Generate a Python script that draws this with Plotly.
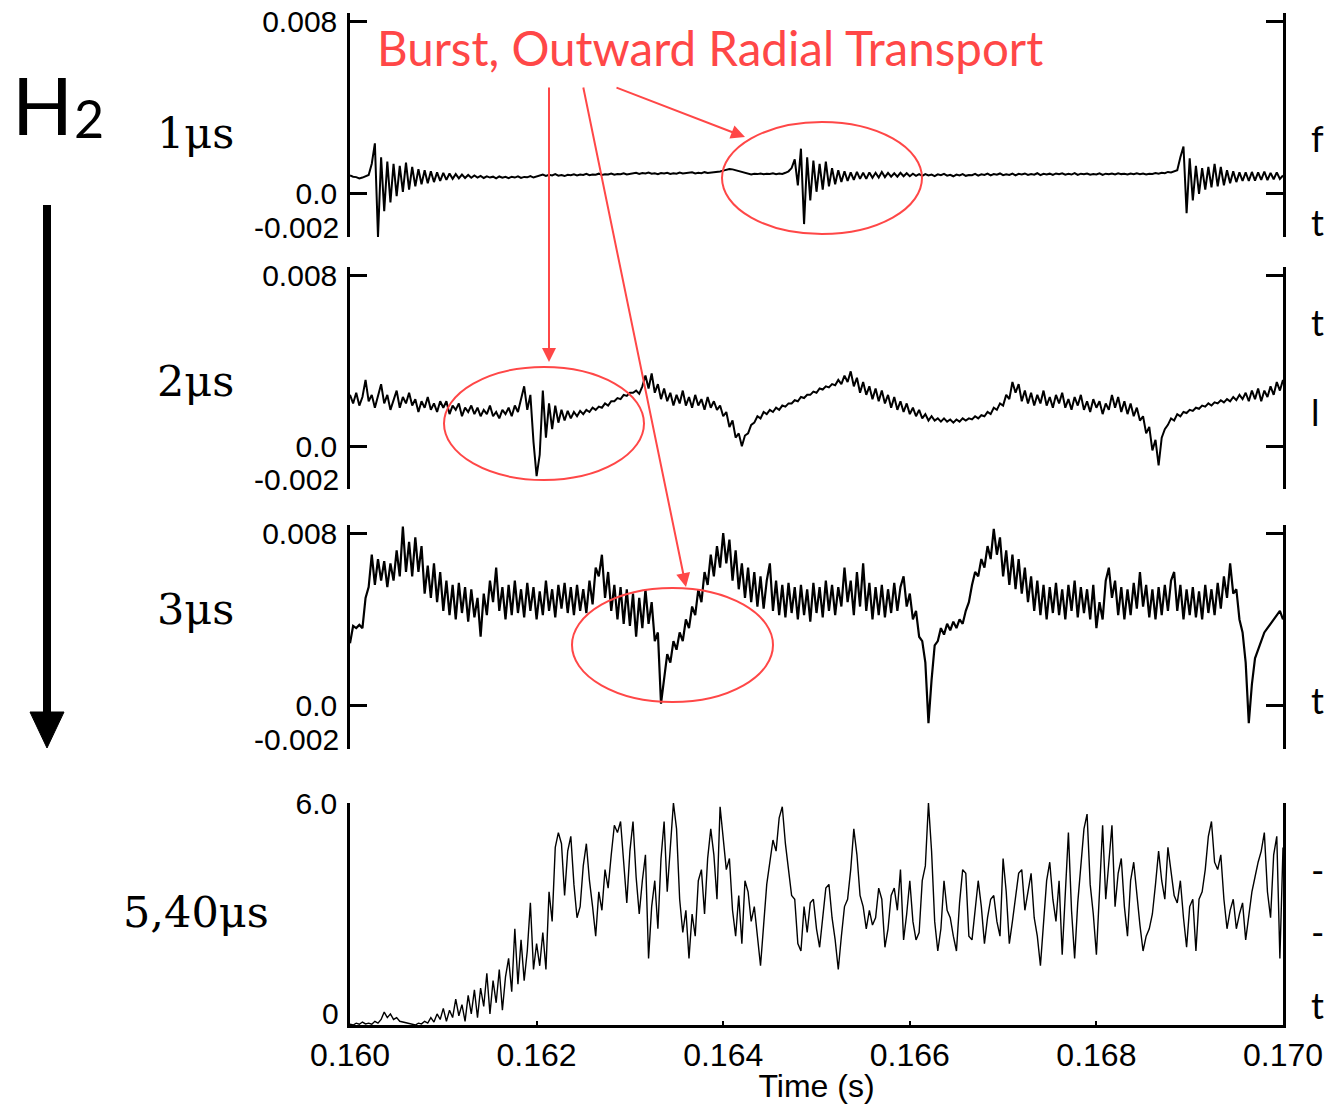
import numpy as np
import plotly.graph_objects as go

# ---------------- data (signals in units of 1e-4, converted below) ----------------
T_START, T_END = 0.160, 0.170

sig_1us_e4 = [
    8.6, 8.0, 7.8, 7.2, 7.6, 8.2, 8.8,
    14, 23.5, -20, 17, -8, 15, -4, 14, -1, 13, 1, 14.5, 2, 12.5, 3.5, 11.5, 4.5, 11, 5, 10.5, 5.5, 10, 6,
    9.8, 6.5, 9.5, 7, 9.2, 7.2, 9, 7.4, 8.8, 7.5, 8.6, 7.6, 8.4,
    7.4, 8.2, 7.6, 8.0, 7.2, 8.1, 7.5, 7.9, 7.3, 8.0, 7.6, 8.2, 7.4, 7.9, 7.7, 8.3, 7.6, 8.1,
    8.5, 9.0, 8.4, 8.9, 8.6, 9.2, 8.5, 8.8, 8.3, 8.9, 8.7, 9.1, 8.6, 9.0, 8.8, 9.3, 8.7, 9.0, 8.9, 9.4,
    8.8, 9.1, 9.0, 9.5, 8.9, 9.2, 9.1, 9.6, 9.0, 9.3,
    9.4, 9.8, 9.3, 9.7, 9.5, 9.9, 9.4, 9.6, 9.2, 9.7, 9.5, 9.8, 9.3, 9.6, 9.4, 9.9, 9.5, 9.7, 9.6, 10.0,
    9.5, 9.8, 9.6, 10.1, 9.7, 9.9, 9.8, 10.2,
    10.4, 10.8, 11.2, 11.6, 11.4, 11.0, 10.6, 10.0, 9.6, 9.2, 9.0,
    9.4, 9.2, 9.5, 9.1, 9.4, 9.3, 9.6, 9.2, 9.5, 9.3, 9.8,
    10.5, 12, 16, 4, 21, -14, 17, -3, 15.5, 1, 14, 2, 15, 3.5, 12, 4.5, 11, 5.5, 10.5, 6,
    10, 6.5, 10.2, 7, 9.8, 7, 10, 7.5, 9.8, 7.6, 10.2, 7.8, 9.8, 8, 9.6, 8, 9.8, 8.2, 9.6, 8.2, 9.4, 8.4, 9.2,
    8.4, 9.2, 8.6, 9.0, 8.3, 9.1, 8.7, 9.3, 8.5, 8.9, 8.2, 9.0, 8.6, 9.2, 8.4, 8.8, 8.7, 9.3, 8.5, 9.1,
    8.8, 9.4, 8.6, 9.2, 8.9, 9.5, 8.7, 9.1, 8.8, 9.4, 8.6, 9.3, 9.0, 9.5, 8.8, 9.2, 8.9, 9.6, 8.7, 9.3,
    9.0, 9.4, 8.8, 9.5, 9.1, 9.6, 8.9, 9.3, 9.0, 9.7, 8.8, 9.4, 9.1, 9.5, 8.9, 9.2, 9.0, 9.6, 8.8, 9.4,
    9.1, 9.5, 9.0, 9.6, 9.2, 9.4, 9.0, 9.5, 9.1, 9.6, 9.2, 9.5, 9.0, 9.4, 9.3, 9.7, 9.4, 9.8, 9.6, 10.2,
    10.0, 10.6,
    11, 17, 22, -9, 16.5, -3, 13, 0, 12, 2, 12.5, 3, 14, 3.5, 12.5, 4, 11, 5, 10.5, 5.5,
    10, 6, 10, 6, 10.2, 6.2, 10, 6.5, 10.4, 6.4, 9.8, 6.8, 10, 7, 8.6,
]

sig_2us_e4 = [
    24, 20, 25, 19, 23, 31, 21, 24, 18, 23, 29, 20, 24, 17, 22, 26, 18, 23, 20, 25,
    19, 22, 16, 21, 18, 23, 17, 20, 16, 21, 18, 21, 15, 19, 17, 20, 14, 18, 16, 19,
    15, 18, 14, 17, 15, 19, 14, 16, 13, 17, 15, 18, 14, 19, 16, 22,
    28, 17, 24, 2, -14, -4,
    26, 4, 20, 8, 19, 11, 17, 12, 16.5, 13, 16, 14, 16.5, 15, 17, 16, 18, 17, 18.5, 18,
    20, 19, 21, 21, 22.5, 22, 24, 23.5, 25, 25, 26, 24.5, 28, 33, 27, 34, 25, 29,
    22, 27, 21, 25, 19, 24, 20, 26, 19, 23, 18, 24, 19, 22, 17, 23, 18, 21, 17, 19,
    14, 16, 9, 12, 4, 6, 0, 5, 6, 10, 11, 14, 13, 16, 15, 17, 16, 18, 17, 19,
    18.5, 20, 20, 21.5, 21, 23, 22.5, 24, 24, 25.5, 25, 27, 26.5, 28, 27.5, 29, 28.5, 31, 29, 33,
    30, 35, 28, 32, 25, 30, 24, 28, 22, 27, 21, 26, 20, 24, 18, 23, 17, 21, 16, 20,
    15, 18, 14, 17, 13, 15, 12, 14, 12, 13, 11.5, 13, 11.5, 12.5, 11, 12.5, 11.5, 13, 12, 13,
    12.5, 14, 13, 14.5, 14, 16, 15, 18, 17, 20, 19, 24, 22, 30, 25, 29, 21, 26, 20, 25,
    19, 24, 20, 26, 19, 23, 18, 24, 20, 25, 18, 22, 17, 23, 19, 24, 17, 21, 16, 22,
    18, 21, 15, 20, 17, 24, 18, 23, 16, 21, 15, 20, 14, 18, 12, 14, 6, 9, -2, 3,
    -9, 4, 8, 10, 13, 12, 15, 14, 16, 15.5, 17, 16.5, 18, 17.5, 19, 18.5, 20, 19, 20.5, 20,
    21.5, 20.5, 22, 21, 23, 21.5, 24, 22, 25, 21, 26, 22, 27, 21, 26, 23, 28, 24, 30, 26, 31,
]

sig_3us_e4 = [
    29, 37, 36, 37.5, 36, 50, 55, 70, 56, 68, 58, 67, 55, 66, 58, 72, 60, 83, 62, 76,
    60, 78, 62, 74, 52, 65, 50, 66, 48, 62, 44, 58, 42, 56, 40, 57, 43, 55, 39, 54,
    41, 50, 32, 52, 42, 58, 48, 64, 44, 55, 40, 56, 42, 58, 43, 54, 41, 57, 44, 55,
    40, 53, 42, 58, 44, 54, 41, 56, 45, 57, 43, 55, 42, 56, 44, 54, 43, 58, 47, 64,
    60, 70, 50, 62, 44, 56, 40, 55, 38, 54, 37, 52, 32, 50, 36, 54, 38, 48, 30, 34,
    1, 14, 24, 20, 30, 26, 34, 30, 40, 36, 46, 42, 54, 48, 62, 56, 70, 60, 74, 64,
    80, 66, 77, 58, 72, 54, 66, 50, 64, 48, 62, 46, 60, 45, 58, 66, 44, 58, 42, 56,
    41, 57, 43, 55, 40, 56, 42, 54, 39, 57, 43, 55, 41, 58, 44, 56, 42, 55, 46, 64,
    48, 58, 42, 62, 46, 66, 44, 57, 40, 55, 42, 56, 41, 54, 43, 57, 44, 55, 60, 46,
    52, 40, 44, 32, 30, 20, -8, 12, 28, 30, 36, 33, 38, 35, 39, 36, 40, 38, 44, 48,
    56, 62, 60, 68, 64, 74, 68, 82, 70, 78, 60, 72, 56, 70, 54, 68, 52, 64, 48, 60,
    44, 58, 42, 56, 40, 55, 43, 57, 42, 54, 40, 56, 44, 58, 41, 55, 43, 54, 40, 56,
    36, 48, 40, 58, 64, 50, 58, 42, 55, 40, 54, 42, 57, 45, 62, 46, 56, 41, 54, 40,
    55, 42, 56, 44, 58, 62, 44, 56, 40, 54, 42, 55, 41, 53, 40, 56, 43, 54, 42, 57,
    45, 60, 50, 66, 52, 54, 40, 34, 20, -8, 10, 22, 26, 30, 34, 36, 38, 40, 42, 44, 40,
]

sig_540us = [
    0.02, 0.0, 0.05, 0.02, 0.08, 0.03, 0.05, 0.02, 0.1, 0.05, 0.15,
    0.35, 0.2, 0.3, 0.15, 0.2, 0.1, 0.08, 0.05, 0.03, 0.02,
    0.0, 0.05, 0.03, 0.1, 0.05, 0.2, 0.08, 0.3, 0.15, 0.45,
    0.1, 0.4, 0.2, 0.7, 0.25, 0.55, 0.1, 0.8, 0.3, 0.95,
    0.2, 1.0, 0.5, 1.4, 0.3, 1.2, 0.6, 1.5, 0.4, 1.3,
    1.8, 0.9, 2.6, 1.1, 2.3, 1.2, 2.0, 3.3, 1.5, 2.2,
    1.6, 2.5, 1.5, 3.6, 2.8,
    4.8, 5.2, 4.9, 3.5, 4.7, 5.1, 3.8, 2.9, 3.2, 4.3,
    4.9, 3.9, 3.2, 2.4, 3.6, 3.1, 4.2, 3.7, 4.6, 5.4,
    5.2, 5.5, 4.4, 3.3, 4.7, 5.5, 4.0, 3.0, 3.9, 4.6,
    1.8, 3.2, 3.9, 2.6, 4.5, 5.5, 3.6, 4.8, 6.0, 5.3,
    3.4, 2.5, 3.1, 1.8, 3.0, 2.4, 3.9, 4.2, 3.0, 4.5,
    5.3, 4.6, 3.4, 5.9, 5.0, 4.2, 4.5, 3.1, 2.4, 3.5,
    2.2, 3.9, 3.6, 2.8, 3.2, 2.3, 1.6, 2.7, 3.8, 4.4,
    5.0, 4.7, 5.6, 5.9, 4.9, 4.2, 3.5, 3.4, 2.2, 2.0,
    3.2, 2.5, 3.3, 3.4, 2.6, 2.1, 3.0, 3.7, 3.8, 2.9,
    2.3, 1.5, 2.4, 3.2, 3.4, 4.2, 5.3, 4.6, 3.5, 3.2,
    2.6, 3.1, 2.7, 2.9, 3.7, 3.4, 2.1, 2.6, 3.5, 3.7,
    3.1, 4.2, 2.3, 3.0, 3.9, 2.8, 2.3, 2.5, 3.9, 4.3,
    6.0, 4.7, 2.8, 2.0, 2.6, 3.9, 3.1, 2.9, 2.4, 2.0,
    3.3, 4.2, 4.1, 2.4, 2.3, 3.1, 3.9, 3.2, 2.2, 2.9,
    3.4, 3.5, 2.8, 2.4, 4.5, 3.6, 2.2, 2.8, 3.4, 4.1,
    4.2, 3.1, 3.6, 4.1, 2.9, 2.4, 1.6, 2.8, 3.9, 4.4,
    3.4, 2.8, 3.9, 1.9, 3.5, 5.2, 3.1, 1.8, 3.3, 4.2,
    5.3, 5.7, 3.8, 3.0, 1.9, 3.6, 5.4, 3.4, 4.3, 5.4,
    3.2, 4.1, 4.5, 3.2, 2.4, 3.9, 4.4, 3.5, 2.7, 2.0,
    2.4, 2.6, 3.0, 3.8, 4.7, 3.9, 3.4, 4.8, 4.2, 3.5,
    3.3, 3.9, 2.9, 2.1, 3.2, 3.4, 2.0, 3.4, 3.6, 4.2,
    5.1, 5.5, 4.4, 4.2, 4.6, 3.4, 2.6, 3.1, 3.4, 2.6,
    3.0, 3.3, 2.3, 2.9, 3.6, 4.0, 4.4, 4.7, 5.2, 3.6,
    2.9, 4.6, 5.1, 1.8, 4.8,
]

UNIT = 1e-4
panel_labels = ["1μs", "2μs", "3μs", "5,40μs"]
x_tickvals = [0.160, 0.162, 0.164, 0.166, 0.168, 0.170]
x_ticktext = ["0.160", "0.162", "0.164", "0.166", "0.168", "0.170"]
y_tickvals_small = [0.008, 0.0, -0.002]
y_ticktext_small = ["0.008", "0.0", ""]
annotation_text = "Burst, Outward Radial Transport"

# ---------------- layout helpers ----------------
W, H = 1324, 1104
def px(x):
    return x / W
def py(y):
    return 1 - y / H

RED = "#FF4747"
BLACK = "#000000"
SANS = "Liberation Sans, Arial, sans-serif"
TICKFONT = dict(family=SANS, size=30, color=BLACK)

fig = go.Figure()

series = [
    [v * UNIT for v in sig_1us_e4],
    [v * UNIT for v in sig_2us_e4],
    [v * UNIT for v in sig_3us_e4],
    sig_540us,
]
widths = [2.0, 2.0, 2.2, 1.4]
for k, s in enumerate(series):
    t = np.linspace(T_START, T_END, len(s))
    fig.add_trace(go.Scatter(
        x=t, y=s, mode="lines",
        line=dict(color=BLACK, width=widths[k]),
        xaxis="x" if k == 0 else f"x{k+1}",
        yaxis="y" if k == 0 else f"y{k+1}",
        showlegend=False, hoverinfo="skip",
    ))

xdom = [px(350), px(1283)]
ydoms = [
    [py(237), py(13)],
    [py(489), py(266.5)],
    [py(749), py(524.5)],
    [py(1025), py(803)],
]

layout = dict(
    width=W, height=H,
    margin=dict(l=0, r=0, t=0, b=0),
    paper_bgcolor="white", plot_bgcolor="white",
    template="none",
    showlegend=False,
)

for k in range(4):
    xn = "xaxis" if k == 0 else f"xaxis{k+1}"
    yn = "yaxis" if k == 0 else f"yaxis{k+1}"
    xa = "x" if k == 0 else f"x{k+1}"
    ya = "y" if k == 0 else f"y{k+1}"
    if k < 3:
        layout[xn] = dict(domain=xdom, range=[T_START, T_END], visible=False,
                          anchor=ya, fixedrange=True)
        layout[yn] = dict(
            domain=ydoms[k], range=[-0.002, 0.0084], anchor=xa,
            showline=True, linecolor=BLACK, linewidth=2.5, mirror="ticks",
            ticks="inside", ticklen=17, tickwidth=2.5, tickcolor=BLACK,
            tickvals=y_tickvals_small, ticktext=y_ticktext_small,
            tickfont=TICKFONT, showgrid=False, zeroline=False,
            ticklabelstandoff=4, automargin=False, fixedrange=True,
        )
    else:
        layout[xn] = dict(
            domain=xdom, range=[T_START, T_END], anchor=ya,
            showline=True, linecolor=BLACK, linewidth=2.5, mirror=False,
            ticks="inside", ticklen=4, tickwidth=2, tickcolor=BLACK,
            tickvals=x_tickvals, ticktext=x_ticktext,
            tickfont=dict(family=SANS, size=32, color=BLACK),
            showgrid=False, zeroline=False, automargin=False, fixedrange=True,
            title=dict(text="Time (s)", standoff=6,
                       font=dict(family=SANS, size=32, color=BLACK)),
        )
        layout[yn] = dict(
            domain=ydoms[k], range=[0, 6.0], anchor=xa,
            showline=True, linecolor=BLACK, linewidth=2.5, mirror="ticks",
            ticks="inside", ticklen=17, tickwidth=2.5, tickcolor=BLACK,
            tickvals=[0, 6.0], ticktext=["", "6.0"],
            tickfont=TICKFONT, showgrid=False, zeroline=False,
            ticklabelstandoff=4, automargin=False, fixedrange=True,
        )

fig.update_layout(**layout)

annotations = []
# bottom tick labels raised so their baseline sits on the tick
for k in range(3):
    ya = "y" if k == 0 else f"y{k+1}"
    annotations.append(dict(text="-0.002", x=px(341), xref="paper", xanchor="right",
                            y=-0.002, yref=ya, yanchor="middle", yshift=10,
                            showarrow=False, font=TICKFONT))
annotations.append(dict(text="0", x=px(341), xref="paper", xanchor="right",
                        y=0, yref="y4", yanchor="middle", yshift=12,
                        showarrow=False, font=TICKFONT))

# panel labels
SERIF = "DejaVu Serif, Liberation Serif, serif"
label_pos = [(196, 133), (196, 381), (196, 609), (196, 912)]
for lab, (lx, ly) in zip(panel_labels, label_pos):
    annotations.append(dict(text=lab, x=px(lx), y=py(ly), xref="paper", yref="paper",
                            xanchor="center", yanchor="middle", showarrow=False,
                            font=dict(family=SERIF, size=43, color=BLACK)))

# H2
annotations.append(dict(text="H", x=px(42), y=py(104), xref="paper", yref="paper",
                        xanchor="center", yanchor="middle", showarrow=False,
                        font=dict(family="Lato, Noto Sans, sans-serif", size=80, color=BLACK)))
annotations.append(dict(text="2", x=px(89), y=py(118), xref="paper", yref="paper",
                        xanchor="center", yanchor="middle", showarrow=False,
                        font=dict(family="Lato, Noto Sans, sans-serif", size=52, color=BLACK)))

# red title
annotations.append(dict(text=annotation_text, x=px(375), y=py(47), xref="paper", yref="paper",
                        xanchor="left", yanchor="middle", showarrow=False,
                        font=dict(family="Lato, Noto Sans, sans-serif", size=47.5, color=RED)))

# red arrows (head, tail)
arrows = [((549, 362), (549, 86)), ((686, 587), (583, 86)), ((745, 137), (615, 87))]
for (hx, hy), (tx, ty) in arrows:
    annotations.append(dict(text="", x=px(hx), y=py(hy), xref="paper", yref="paper",
                            ax=tx - hx, ay=ty - hy, axref="pixel", ayref="pixel",
                            showarrow=True, arrowhead=2, arrowsize=1.4, arrowwidth=2,
                            arrowcolor=RED, standoff=0))

# glyph fragments at the right edge (text of the neighbouring slide column)
edge_glyphs = [(138, "f"), (222, "t"), (322, "t"), (412, "l"), (700, "t"),
               (870, "-"), (932, "-"), (1005, "t")]
for gy, g in edge_glyphs:
    annotations.append(dict(text=g, x=px(1309), y=py(gy), xref="paper", yref="paper",
                            xanchor="left", yanchor="middle", showarrow=False,
                            font=dict(family="Lato, sans-serif", size=36, color=BLACK)))

fig.update_layout(annotations=annotations)

shapes = []
# ellipses
for (x0, y0, x1, y1) in [(722, 122, 922, 234), (444, 367, 644, 480), (572, 588, 773, 702)]:
    shapes.append(dict(type="circle", xref="paper", yref="paper",
                       x0=px(x0), x1=px(x1), y0=py(y1), y1=py(y0),
                       line=dict(color=RED, width=2)))
# big black arrow
shapes.append(dict(type="line", xref="paper", yref="paper",
                   x0=px(47), x1=px(47), y0=py(205), y1=py(716),
                   line=dict(color=BLACK, width=8)))
shapes.append(dict(type="path", xref="paper", yref="paper",
                   path=f"M {px(30)},{py(712)} L {px(64)},{py(712)} L {px(47)},{py(748)} Z",
                   fillcolor=BLACK, line=dict(color=BLACK, width=1)))
fig.update_layout(shapes=shapes)

fig.write_html("out.html")
